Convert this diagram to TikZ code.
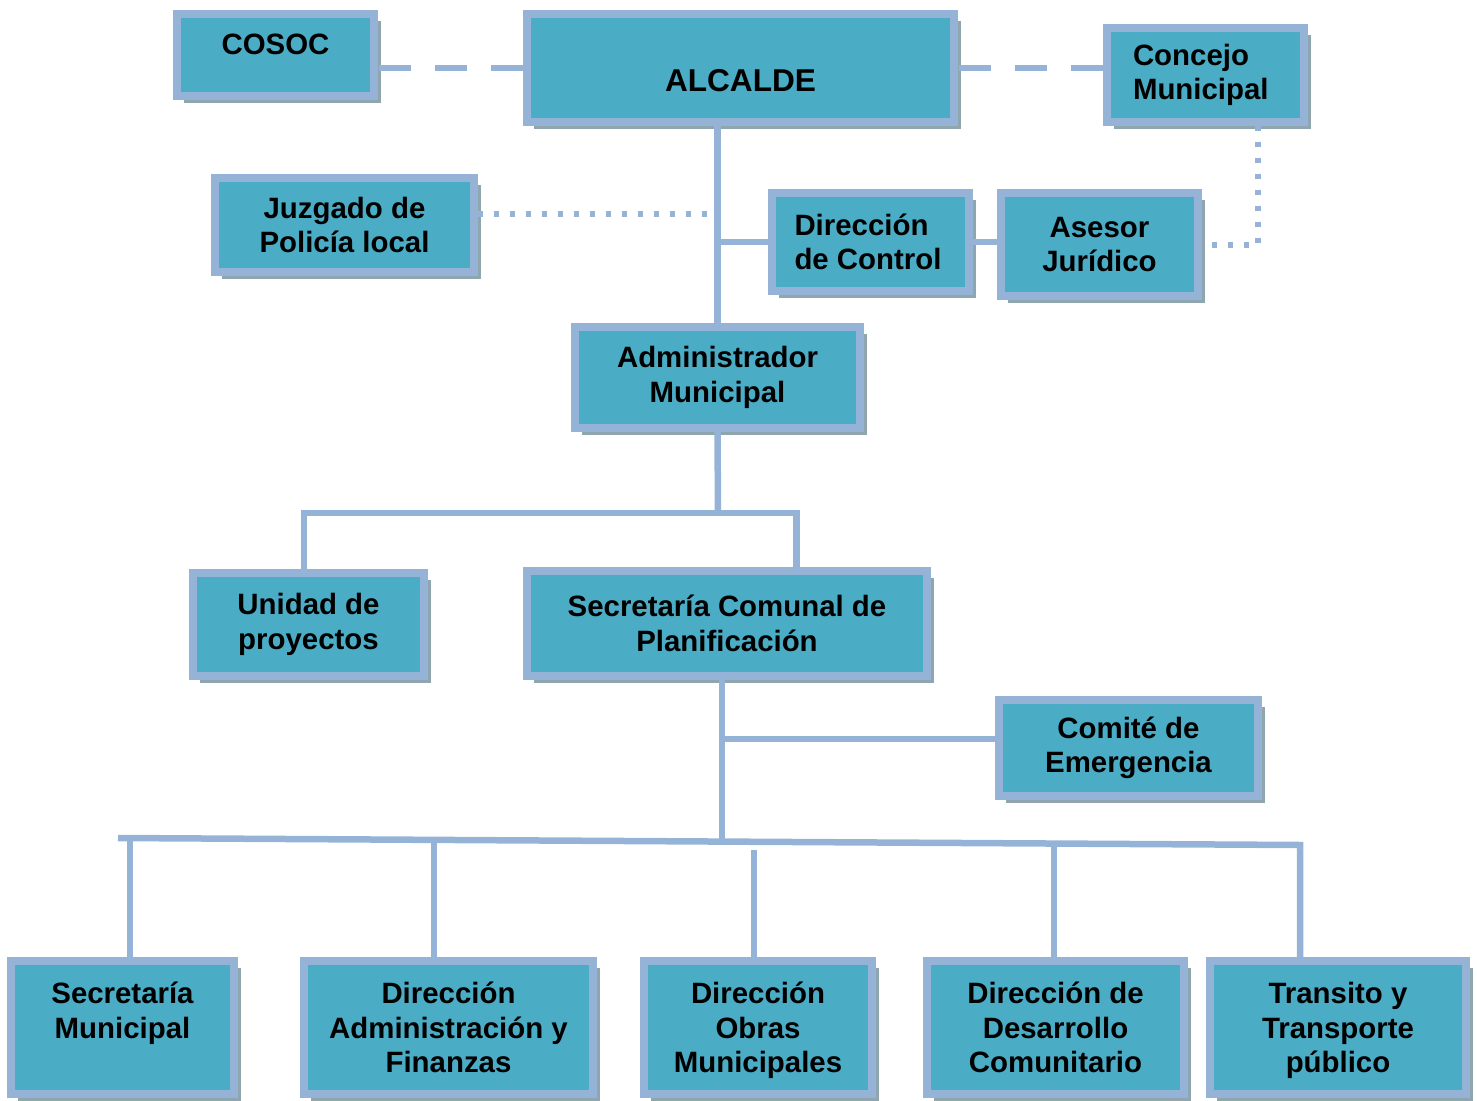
\documentclass[tikz,border=0pt]{standalone}
\usepackage{fontspec}
\setmainfont{Liberation Sans}
\usepackage{tikz}
\usetikzlibrary{shadows}

\definecolor{boxfill}{HTML}{4BACC6}
\definecolor{boxline}{HTML}{95B3D7}
\definecolor{linkblue}{HTML}{95B3D7}
\definecolor{shadowgray}{HTML}{8FA6AE}
\newcommand{\boxfont}{\fontsize{14.7}{17.25}\selectfont\bfseries}

\tikzset{
	orgbox/.style={draw=boxline, line width=4pt, fill=boxfill, font=\boxfont,
		align=center, inner sep=2pt,
		drop shadow={shadow xshift=3.5pt, shadow yshift=-3.5pt, fill=shadowgray, opacity=1}},
	link/.style={draw=linkblue, line width=3.25pt},
	dashlink/.style={link, dash pattern=on 16pt off 12pt},
	dotlink/.style={draw=linkblue, line width=3pt, dash pattern=on 2.5pt off 5.5pt},
}

\begin{document}
\begin{tikzpicture}[x=0.5pt, y=-0.5pt]

	\useasboundingbox (0,0) rectangle (1477,1101);

	% top level
	\node[orgbox, minimum width=98.5pt, minimum height=41pt, text depth=11pt] (cosoc) at (275.5,55) {COSOC};
	\node[orgbox, minimum width=213.5pt, minimum height=54pt, text height=24pt,
		font=\fontsize{15.8}{17.25}\selectfont\bfseries] (alcalde) at (740.5,68) {ALCALDE};
	\node[orgbox, minimum width=98.5pt, minimum height=47pt, align=flush left, text width=72pt] (concejo) at (1205,75) {Concejo\\Municipal};

	% staff
	\node[orgbox, minimum width=129.5pt, minimum height=47pt] (juzgado) at (344.5,225) {Juzgado de\\Policía local};
	\node[orgbox, minimum width=98.5pt, minimum height=49pt, align=flush left, text width=76pt] (control) at (870.5,242) {Dirección\\de Control};
	\node[orgbox, minimum width=98.5pt, minimum height=51.5pt] (asesor) at (1099.5,244.5) {Asesor\\Jurídico};

	\node[orgbox, minimum width=142.5pt, minimum height=50.5pt] (admin) at (717.5,377.5) {Administrador\\Municipal};

	\node[orgbox, minimum width=115.5pt, minimum height=51.5pt] (unidad) at (308.5,624.5) {Unidad de\\proyectos};
	\node[orgbox, minimum width=200pt, minimum height=52.5pt] (seccom) at (727,623.5) {Secretaría Comunal de\\Planificación};
	\node[orgbox, minimum width=129.5pt, minimum height=48pt] (comite) at (1128.5,748) {Comité de\\Emergencia};

	% bottom row
	\node[orgbox, minimum width=111.5pt, minimum height=66.5pt] (secmun) at (122.5,1027.5) {Secretaría\\Municipal\\\mbox{}};
	\node[orgbox, minimum width=144.5pt, minimum height=66.5pt] (diradm) at (448.5,1027.5) {Dirección\\Administración y\\Finanzas};
	\node[orgbox, minimum width=114pt, minimum height=66.5pt, text depth=0pt] (dirobras) at (758,1027.5) {Dirección\\Obras\\Municipales};
	\node[orgbox, minimum width=128.5pt, minimum height=66.5pt] (dirdes) at (1055.5,1027.5) {Dirección de\\Desarrollo\\Comunitario};
	\node[orgbox, minimum width=128pt, minimum height=66.5pt, text depth=0pt] (transito) at (1338,1027.5) {Transito y\\Transporte\\público};

	% junction points
	\coordinate (jz) at (708,214);
	\coordinate (jc) at (1258,245);
	\coordinate (b1) at (718,513);
	\coordinate (b1r) at (796.5,513);
	\coordinate (b2) at (722,739);
	\coordinate (b3) at (722,840);
	\coordinate (busL) at (118,838);
	\coordinate (busR) at (1300,845);
	\coordinate (d1) at (130,838);
	\coordinate (d2) at (434,840);
	\coordinate (d3) at (754,850);
	\coordinate (d4) at (1054,843.5);

	% dashed and dotted links
	\draw[dashlink] (alcalde.west) -- (alcalde.west -| cosoc.east);
	\draw[dashlink] (alcalde.east -| concejo.west) -- (alcalde.east);
	\draw[dotlink] (concejo.south -| jc) -- (jc) -- (asesor.east |- jc);
	\draw[dotlink] (jz -| juzgado.east) -- (jz);

	% solid links
	\draw[link] (alcalde.south -| admin.north) -- (admin.north);
	\draw[link] (control.west) -- (control.west -| admin.north);
	\draw[link] (control.east) -- (control.east -| asesor.west);
	\draw[link] (admin.south) -- (b1);
	\draw[link] (unidad.north -| 304,0) |- (b1r) -- (b1r |- seccom.north);
	\draw[link] (seccom.south -| b2) -- (b3);
	\draw[link] (b2) -- (comite.west |- b2);
	\draw[link] (busL) -- (busR) -- (busR |- transito.north);
	\draw[link] (d1) -- (d1 |- secmun.north);
	\draw[link] (d2) -- (d2 |- diradm.north);
	\draw[link] (d3) -- (d3 |- dirobras.north);
	\draw[link] (d4) -- (d4 |- dirdes.north);

\end{tikzpicture}
\end{document}
